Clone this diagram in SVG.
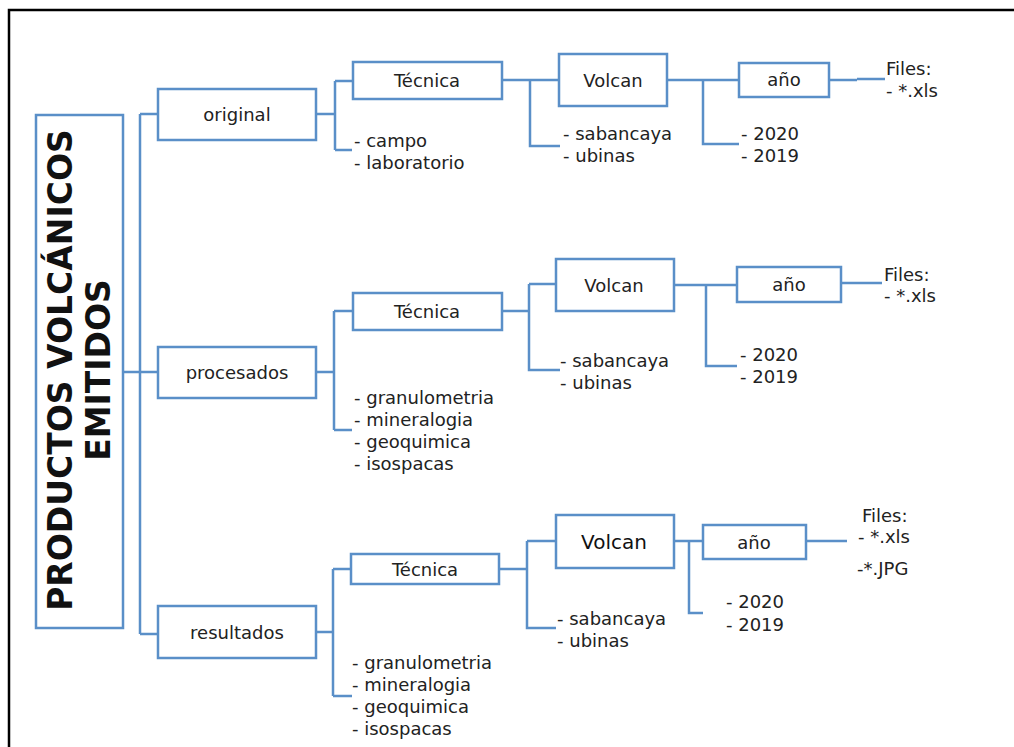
<svg xmlns="http://www.w3.org/2000/svg" width="1014" height="747" viewBox="0 0 1014 747">
<style>
.box{fill:#fff;stroke:#5a8fc8;stroke-width:2.5}
.ln{fill:none;stroke:#5a8fc8;stroke-width:2.5}
.t{font-family:"DejaVu Sans",Verdana,sans-serif;font-size:18px;fill:#222}
.c{text-anchor:middle}
.title{font-family:"DejaVu Sans",Verdana,sans-serif;font-size:33px;font-weight:bold;fill:#111;text-anchor:middle}
</style>
<rect width="1014" height="747" fill="#fff"/>
<path d="M9,747 V10 H1014" fill="none" stroke="#000" stroke-width="2.5"/>

<g id="connectors">
<path class="ln" d="M123,372 H158 M140,114 V634 M140,114 H158 M140,634 H158"/>
<!-- row 1 -->
<path class="ln" d="M316,114 H335 M335,81 V150 M335,81 H353 M335,150 H352"/>
<path class="ln" d="M502,80 H559 M530,80 V146 H560"/>
<path class="ln" d="M667,80 H739 M703,80 V144 H739"/>
<path class="ln" d="M829,80 H857 M857,79 H885"/>
<!-- row 2 -->
<path class="ln" d="M316,372 H334 M334,311 V430 M334,311 H353 M334,430 H352"/>
<path class="ln" d="M502,311 H529 M529,284 V370 H560 M529,284 H556"/>
<path class="ln" d="M674,285 H737 M706,285 V366 H737"/>
<path class="ln" d="M841,283 H882"/>
<!-- row 3 -->
<path class="ln" d="M316,632 H333 M333,569 V696 M333,569 H351 M333,696 H352"/>
<path class="ln" d="M499,569 H527 M527,541 V628 H556 M527,541 H556"/>
<path class="ln" d="M674,541 H703 M689,541 V613 H703"/>
<path class="ln" d="M806,541 H847"/>
</g>

<g id="root">
<rect class="box" x="36" y="115" width="87" height="513"/>
<text class="title" transform="translate(72,370) rotate(-90)">PRODUCTOS VOLCÁNICOS</text>
<text class="title" transform="translate(110,370) rotate(-90)">EMITIDOS</text>
</g>

<g id="original">
<rect class="box" x="158" y="89" width="158" height="51"/>
<text class="t c" x="237" y="121">original</text>
</g>
<g id="procesados">
<rect class="box" x="158" y="347" width="158" height="51"/>
<text class="t c" x="237" y="379">procesados</text>
</g>
<g id="resultados">
<rect class="box" x="158" y="606" width="158" height="52"/>
<text class="t c" x="237" y="639">resultados</text>
</g>

<g id="tecnica1">
<rect class="box" x="353" y="62" width="149" height="37"/>
<text class="t c" x="427" y="87">Técnica</text>
</g>
<g id="tecnica1-items">
<text class="t" x="354" y="147">- campo</text>
<text class="t" x="354" y="169">- laboratorio</text>
</g>
<g id="volcan1">
<rect class="box" x="559" y="54" width="108" height="52"/>
<text class="t c" x="613" y="87">Volcan</text>
</g>
<g id="volcan1-items">
<text class="t" x="563" y="140">- sabancaya</text>
<text class="t" x="563" y="162">- ubinas</text>
</g>
<g id="anio1">
<rect class="box" x="739" y="63" width="90" height="34"/>
<text class="t c" x="784" y="86">año</text>
</g>
<g id="anio1-items">
<text class="t" x="741" y="140">- 2020</text>
<text class="t" x="741" y="162">- 2019</text>
</g>
<g id="files1">
<text class="t" x="886" y="75">Files:</text>
<text class="t" x="886" y="97">- *.xls</text>
</g>

<g id="tecnica2">
<rect class="box" x="353" y="293" width="149" height="37"/>
<text class="t c" x="427" y="318">Técnica</text>
</g>
<g id="tecnica2-items">
<text class="t" x="354" y="404">- granulometria</text>
<text class="t" x="354" y="426">- mineralogia</text>
<text class="t" x="354" y="448">- geoquimica</text>
<text class="t" x="354" y="470">- isospacas</text>
</g>
<g id="volcan2">
<rect class="box" x="556" y="259" width="118" height="52"/>
<text class="t c" x="614" y="292">Volcan</text>
</g>
<g id="volcan2-items">
<text class="t" x="560" y="367">- sabancaya</text>
<text class="t" x="560" y="389">- ubinas</text>
</g>
<g id="anio2">
<rect class="box" x="737" y="267" width="104" height="35"/>
<text class="t c" x="789" y="291">año</text>
</g>
<g id="anio2-items">
<text class="t" x="740" y="361">- 2020</text>
<text class="t" x="740" y="383">- 2019</text>
</g>
<g id="files2">
<text class="t" x="884" y="281">Files:</text>
<text class="t" x="884" y="302">- *.xls</text>
</g>

<g id="tecnica3">
<rect class="box" x="351" y="554" width="148" height="30"/>
<text class="t c" x="425" y="576">Técnica</text>
</g>
<g id="tecnica3-items">
<text class="t" x="352" y="669">- granulometria</text>
<text class="t" x="352" y="691">- mineralogia</text>
<text class="t" x="352" y="713">- geoquimica</text>
<text class="t" x="352" y="735">- isospacas</text>
</g>
<g id="volcan3">
<rect class="box" x="556" y="515" width="118" height="53"/>
<text class="t c" x="614" y="549" style="font-size:20px;fill:#111">Volcan</text>
</g>
<g id="volcan3-items">
<text class="t" x="557" y="625">- sabancaya</text>
<text class="t" x="557" y="647">- ubinas</text>
</g>
<g id="anio3">
<rect class="box" x="703" y="525" width="103" height="34"/>
<text class="t c" x="754" y="549">año</text>
</g>
<g id="anio3-items">
<text class="t" x="726" y="608">- 2020</text>
<text class="t" x="726" y="631">- 2019</text>
</g>
<g id="files3">
<text class="t" x="862" y="522">Files:</text>
<text class="t" x="858" y="543">- *.xls</text>
<text class="t" x="857" y="575">-*.JPG</text>
</g>
</svg>
